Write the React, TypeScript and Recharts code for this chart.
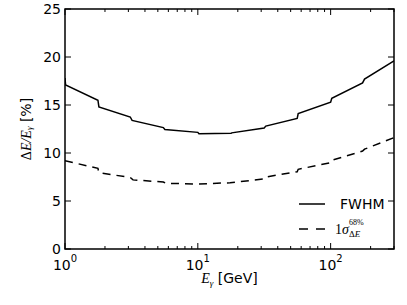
import { LineChart, Line, XAxis, YAxis, ReferenceArea } from 'recharts';

// energy bins (GeV) and resolution values (%)
const fwhmEnergy = [1, 1.01, 1.77, 1.8, 3.1, 3.2, 5.5, 5.65, 10, 10.2, 17.8, 18, 31.6, 32.5, 56, 57, 100, 102, 174, 180, 300];
const fwhmValue = [17.8, 17.1, 15.5, 14.8, 13.75, 13.4, 12.65, 12.45, 12.15, 12.0, 12.05, 12.1, 12.6, 12.8, 13.6, 14.1, 15.3, 15.7, 17.3, 17.7, 19.6];

const sigmaEnergy = [1, 1.77, 1.8, 3.1, 3.25, 5.5, 5.75, 10, 17.5, 31.6, 32.5, 56, 57, 100, 102, 174, 180, 300];
const sigmaValue = [9.2, 8.4, 7.95, 7.45, 7.2, 6.98, 6.84, 6.77, 6.9, 7.3, 7.5, 8.05, 8.3, 9.0, 9.25, 10.2, 10.4, 11.6];

const xTicks = [1, 2, 3, 4, 5, 6, 7, 8, 9, 10, 20, 30, 40, 50, 60, 70, 80, 90, 100, 200, 300];
const xMajor = [1, 10, 100];
const yTicks = [0, 5, 10, 15, 20, 25];

const fwhmData = fwhmEnergy.map((e, i) => ({ e, v: fwhmValue[i] }));
const sigmaData = sigmaEnergy.map((e, i) => ({ e, v: sigmaValue[i] }));

const TOP = 9;
const BOTTOM = 249;
const LEFT = 65;
const RIGHT = 394;
const SANS = '"DejaVu Sans", sans-serif';
const SERIF = '"Liberation Serif", "DejaVu Serif", serif';

const XTick = (props: any) => {
  const { x, payload } = props;
  const v = payload.value;
  const major = xMajor.includes(v);
  const len = major ? 6 : 3;
  return (
    <g>
      <line x1={x} x2={x} y1={BOTTOM} y2={BOTTOM - len} stroke="#000" />
      <line x1={x} x2={x} y1={TOP} y2={TOP + len} stroke="#000" />
      {major && (
        <text x={x} y={270} textAnchor="middle" fontFamily={SANS} fontSize={14} fill="#000">
          10<tspan dy={-8} fontSize={10}>{Math.round(Math.log10(v))}</tspan>
        </text>
      )}
    </g>
  );
};

const YTick = (props: any) => {
  const { y, payload } = props;
  return (
    <g>
      <line x1={LEFT} x2={LEFT + 6} y1={y} y2={y} stroke="#000" />
      <line x1={RIGHT} x2={RIGHT - 6} y1={y} y2={y} stroke="#000" />
      <text x={61} y={y} textAnchor="end" dominantBaseline="central" fontFamily={SANS} fontSize={14} fill="#000">
        {payload.value}
      </text>
    </g>
  );
};

export default function App() {
  return (
    <div style={{ position: 'absolute', left: 0, top: 0, background: '#fff' }}>
      <LineChart width={407} height={305} margin={{ top: TOP, right: 13, left: 0, bottom: 0 }}>
        <XAxis
          dataKey="e"
          type="number"
          scale="log"
          domain={[1, 300]}
          allowDataOverflow
          ticks={xTicks}
          interval={0}
          height={56}
          axisLine={false}
          tickLine={false}
          tick={<XTick />}
        />
        <YAxis
          type="number"
          domain={[0, 25]}
          ticks={yTicks}
          interval={0}
          width={65}
          axisLine={false}
          tickLine={false}
          tick={<YTick />}
        />
        <ReferenceArea x1={1} x2={300} y1={0} y2={25} fill="none" stroke="#000" strokeWidth={1.5} />
        <Line data={fwhmData} dataKey="v" type="linear" stroke="#000" strokeWidth={1.5} dot={false} isAnimationActive={false} />
        <Line data={sigmaData} dataKey="v" type="linear" stroke="#000" strokeWidth={1.5} strokeDasharray="8 6" dot={false} isAnimationActive={false} />

        {/* legend */}
        <line x1={299} x2={325} y1={204} y2={204} stroke="#000" strokeWidth={1.5} />
        <text x={340} y={204} dominantBaseline="central" fontFamily={SANS} fontSize={14} fill="#000">FWHM</text>
        <line x1={299} x2={325} y1={229} y2={229} stroke="#000" strokeWidth={1.5} strokeDasharray="9 8" />
        <text x={335} y={234} fontFamily={SERIF} fontSize={14} fill="#000">
          1<tspan fontStyle="italic">σ</tspan>
        </text>
        <text x={349} y={225} fontFamily={SERIF} fontSize={8} fill="#000">68%</text>
        <text x={349} y={237} fontFamily={SERIF} fontSize={9} fill="#000">
          Δ<tspan fontStyle="italic">E</tspan>
        </text>

        {/* axis titles */}
        <text x={(LEFT + RIGHT) / 2} y={283} textAnchor="middle" fontFamily={SANS} fontSize={14} fill="#000">
          <tspan fontFamily={SERIF} fontStyle="italic">E</tspan>
          <tspan fontFamily={SERIF} fontStyle="italic" fontSize={9} dy={3}>γ</tspan>
          <tspan dy={-3}> [GeV]</tspan>
        </text>
        <text
          x={26}
          y={(TOP + BOTTOM) / 2}
          transform={`rotate(-90, 26, ${(TOP + BOTTOM) / 2})`}
          textAnchor="middle"
          dominantBaseline="central"
          fontFamily={SANS}
          fontSize={14}
          fill="#000"
        >
          <tspan fontFamily={SERIF}>Δ</tspan>
          <tspan fontFamily={SERIF} fontStyle="italic">E/E</tspan>
          <tspan fontFamily={SERIF} fontStyle="italic" fontSize={9} dy={3}>γ</tspan>
          <tspan dy={-3}> [%]</tspan>
        </text>
      </LineChart>
    </div>
  );
}
